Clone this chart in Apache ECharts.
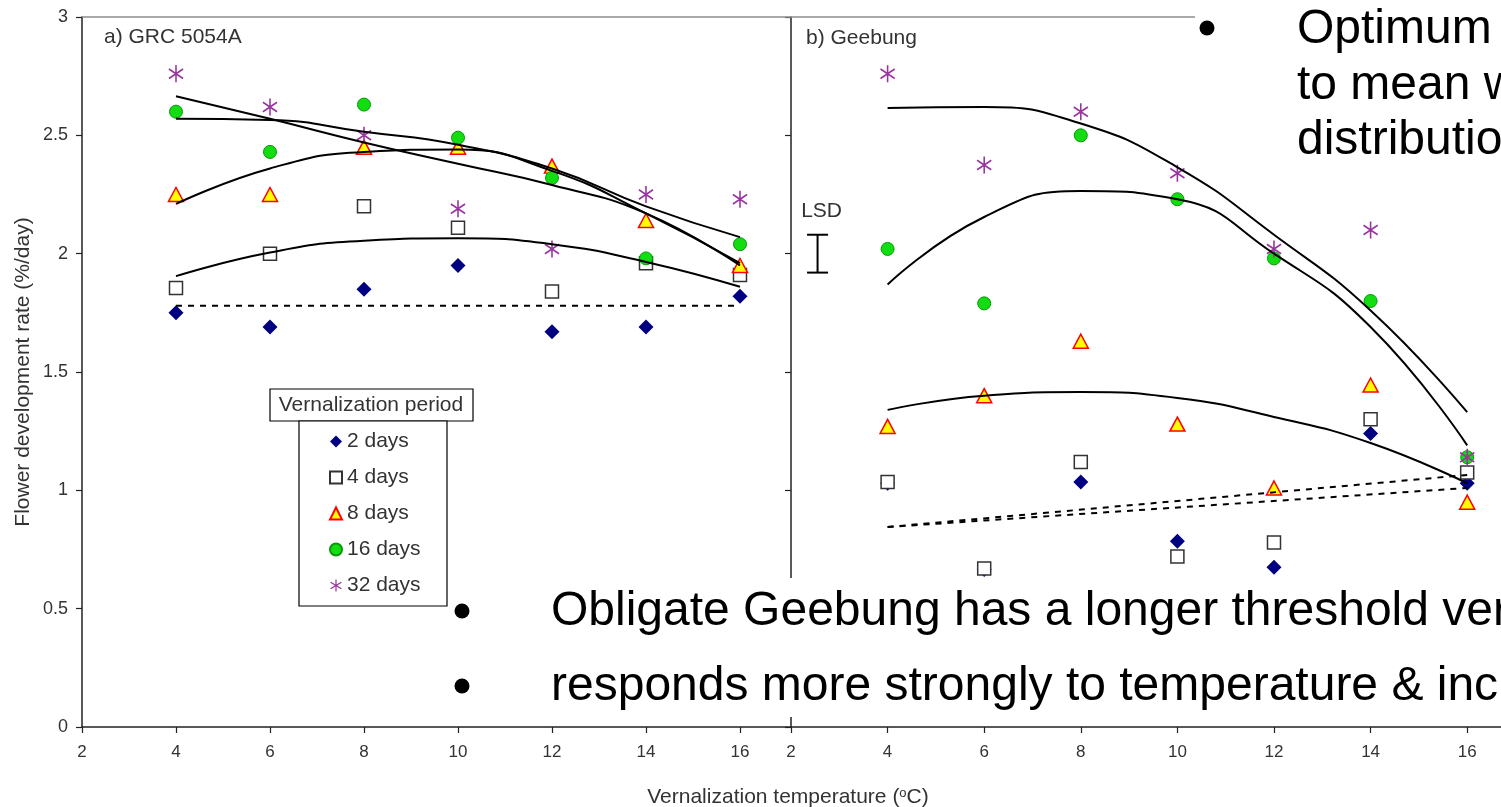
<!DOCTYPE html>
<html><head><meta charset="utf-8">
<script src="https://cdn.jsdelivr.net/npm/echarts@6/dist/echarts.min.js"></script>
<style>html,body{margin:0;padding:0;background:#fff}#c{width:1501px;height:807px}</style>
</head><body><div id="c"></div>
<script>
// ---------- data ----------
const temps = [4, 6, 8, 10, 12, 14, 16];
const periods = ['2 days', '4 days', '8 days', '16 days', '32 days'];

// a) GRC 5054A observed
const a2  = [1.75, 1.69, 1.85, 1.95, 1.67, 1.69, 1.82];
const a4  = [1.855, 2.00, 2.20, 2.11, 1.84, 1.96, 1.91];
const a8  = [2.25, 2.25, 2.45, 2.45, 2.37, 2.14, 1.95];
const a16 = [2.60, 2.43, 2.63, 2.49, 2.32, 1.98, 2.04];
const a32 = [2.76, 2.62, 2.50, 2.19, 2.02, 2.25, 2.23];
// a) fitted curves (read from picture)
const aFit2  = [[4, 1.78], [16, 1.78]];
const aFit4  = [1.905, 2.005, 2.055, 2.065, 2.04, 1.965, 1.86];
const aFit8  = [2.21, 2.36, 2.43, 2.44, 2.35, 2.17, 1.96];
const aFit16 = [2.57, 2.565, 2.515, 2.46, 2.36, 2.20, 2.07];
const aFit32 = [2.665, 2.57, 2.47, 2.38, 2.29, 2.17, 1.95];

// b) Geebung observed
const b2  = [1.03, 0.665, 1.035, 0.785, 0.675, 1.24, 1.03];
const b4  = [1.035, 0.67, 1.12, 0.72, 0.78, 1.30, 1.075];
const b8  = [1.27, 1.40, 1.63, 1.28, 1.01, 1.445, 0.95];
const b16 = [2.02, 1.79, 2.50, 2.23, 1.98, 1.80, 1.14];
const b32 = [2.76, 2.375, 2.60, 2.34, 2.02, 2.10, 1.14];
// b) fitted curves
const bFit2  = [[4, 0.845], [16, 1.01]];
const bFit4  = [[4, 0.845], [16, 1.065]];
const bFit8  = [1.34, 1.40, 1.415, 1.39, 1.31, 1.20, 1.03];
const bFit16 = [1.87, 2.155, 2.265, 2.23, 2.00, 1.69, 1.19];
const bFit32 = [2.615, 2.62, 2.55, 2.365, 2.08, 1.76, 1.33];
// LSD bar (x, low, high)
const lsd = [2.55, 1.92, 2.08];

// ---------- styles ----------
const FONT = '"Liberation Sans", Arial, sans-serif';
const STAR = 'path://M45 0 L55 0 L55 100 L45 100 Z M7.64 17.75 L97.64 73.75 L92.36 82.25 L2.36 26.25 Z M2.36 73.75 L92.36 17.75 L97.64 26.25 L7.64 82.25 Z';
const markers = {
  '2 days':  {symbol: 'diamond', symbolSize: 15, itemStyle: {color: '#000080', opacity: 1}},
  '4 days':  {symbol: 'rect', symbolSize: 13, itemStyle: {color: '#ffffff', borderColor: '#333333', borderWidth: 1.5, opacity: 1}},
  '8 days':  {symbol: 'triangle', symbolSize: [15, 14], itemStyle: {color: '#ffff00', borderColor: '#ff0000', borderWidth: 1.5, opacity: 1}},
  '16 days': {symbol: 'circle', symbolSize: 13, itemStyle: {color: '#11dd11', borderColor: '#079907', borderWidth: 1, opacity: 1}},
  '32 days': {symbol: STAR, symbolSize: [15, 17], itemStyle: {color: '#9933a0', opacity: 1}}
};

const pair = (vals) => temps.map((t, i) => [t, vals[i]]);
function scatter(name, vals, gi) {
  const m = markers[name];
  return {type: 'scatter', name, xAxisIndex: gi, yAxisIndex: gi, data: pair(vals),
    symbol: m.symbol, symbolSize: m.symbolSize, itemStyle: m.itemStyle, z: 2, silent: true};
}
function curve(id, data, gi, dashed) {
  return {type: 'line', name: id, xAxisIndex: gi, yAxisIndex: gi, data,
    smooth: dashed ? false : true, symbol: 'none', z: 3, silent: true,
    lineStyle: {color: '#000', width: 2, type: dashed ? [6, 6] : 'solid'}};
}

const series = [
  scatter('2 days', a2, 0), scatter('4 days', a4, 0), scatter('8 days', a8, 0),
  scatter('16 days', a16, 0), scatter('32 days', a32, 0),
  scatter('2 days', b2, 1), scatter('4 days', b4, 1), scatter('8 days', b8, 1),
  scatter('16 days', b16, 1), scatter('32 days', b32, 1),
  curve('fa2', aFit2, 0, true), curve('fa4', pair(aFit4), 0), curve('fa8', pair(aFit8), 0),
  curve('fa16', pair(aFit16), 0), curve('fa32', pair(aFit32), 0),
  curve('fb2', bFit2, 1, true), curve('fb4', bFit4, 1, true), curve('fb8', pair(bFit8), 1),
  curve('fb16', pair(bFit16), 1), curve('fb32', pair(bFit32), 1),
  {type: 'custom', name: 'LSD', xAxisIndex: 1, yAxisIndex: 1, data: [lsd], z: 3, silent: true,
    renderItem: (params, api) => {
      const lo = api.coord([api.value(0), api.value(1)]);
      const hi = api.coord([api.value(0), api.value(2)]);
      const w = 10.5, st = {stroke: '#000', lineWidth: 2};
      return {type: 'group', children: [
        {type: 'line', shape: {x1: lo[0], y1: lo[1], x2: hi[0], y2: hi[1]}, style: st},
        {type: 'line', shape: {x1: lo[0] - w, y1: lo[1], x2: lo[0] + w, y2: lo[1]}, style: st},
        {type: 'line', shape: {x1: hi[0] - w, y1: hi[1], x2: hi[0] + w, y2: hi[1]}, style: st},
        {type: 'text', x: hi[0] + 4, y: hi[1] - 24, style: {text: 'LSD', fontSize: 21, fontFamily: FONT, fill: '#333', align: 'center', verticalAlign: 'middle'}}
      ]};
    }}
];

const axisCol = '#222';
function xAx(gi, max) {
  return {gridIndex: gi, type: 'value', min: 2, max, interval: 2,
    axisLine: {show: true, lineStyle: {color: axisCol, width: 1.5}},
    axisTick: {show: true, length: 6, lineStyle: {color: axisCol, width: 1.2}},
    axisLabel: {fontSize: 17, color: '#333', margin: 17, fontFamily: FONT, showMaxLabel: false},
    splitLine: {show: false}};
}
function yAx(gi, labels) {
  const a = {gridIndex: gi, type: 'value', min: 0, max: 3, interval: 0.5,
    axisLine: {show: true, lineStyle: {color: axisCol, width: 1.5}},
    axisTick: {show: true, length: 6, lineStyle: {color: axisCol, width: 1.2}},
    axisLabel: {show: labels, fontSize: 18, color: '#333', margin: 14, fontFamily: FONT},
    splitLine: {show: false}};
  if (labels) {
    a.name = 'Flower development rate (%/day)';
    a.nameLocation = 'middle';
    a.nameGap = 48;
    a.nameTextStyle = {fontSize: 21, color: '#333', fontFamily: FONT};
  }
  return a;
}

const bigText = (x, y, t) => ({type: 'text', x, y, z: 101,
  style: {text: t, fontSize: 48, fontFamily: FONT, fill: '#000', align: 'left', verticalAlign: 'middle'}});
const bullet = (cx, cy) => ({type: 'circle', shape: {cx, cy, r: 7.5}, z: 101, style: {fill: '#000'}});

const option = {
  animation: false,
  backgroundColor: '#fff',
  textStyle: {fontFamily: FONT},
  grid: [
    {left: 82, top: 17, width: 708, height: 710},
    {left: 791, top: 17, width: 710, height: 710}
  ],
  xAxis: [xAx(0, 17.064), xAx(1, 16.70)],
  yAxis: [yAx(0, true), yAx(1, false)],
  legend: {
    data: periods, orient: 'vertical', left: 329, top: 431, padding: 0,
    itemWidth: 12, itemHeight: 12, itemGap: 15, selectedMode: false, z: 10,
    textStyle: {fontSize: 21, color: '#333', lineHeight: 21, fontFamily: FONT}
  },
  graphic: [
    {type: 'line', z: 50, shape: {x1: 82, y1: 17, x2: 1195, y2: 17}, style: {stroke: '#8c8c8c', lineWidth: 1.5}},
    {type: 'text', x: 104, y: 37, style: {text: 'a) GRC 5054A', fontSize: 21, fontFamily: FONT, fill: '#333', verticalAlign: 'middle'}},
    {type: 'text', x: 806, y: 38, style: {text: 'b) Geebung', fontSize: 21, fontFamily: FONT, fill: '#333', verticalAlign: 'middle'}},
    {type: 'rect', z: 1, shape: {x: 270, y: 389, width: 203, height: 32}, style: {fill: '#fff', stroke: '#000', lineWidth: 1.2}},
    {type: 'text', z: 2, x: 371, y: 405, style: {text: 'Vernalization period', fontSize: 21, fontFamily: FONT, fill: '#333', align: 'center', verticalAlign: 'middle'}},
    {type: 'rect', z: 1, shape: {x: 299, y: 421, width: 148, height: 185}, style: {fill: '#fff', stroke: '#000', lineWidth: 1.2}},
    {type: 'text', x: 788, y: 797, style: {
      text: 'Vernalization temperature ({s|o}C)', fontSize: 21, fontFamily: FONT, fill: '#333',
      align: 'center', verticalAlign: 'middle', lineHeight: 21,
      rich: {s: {fontSize: 13, fontFamily: FONT, fill: '#333', verticalAlign: 'top', lineHeight: 21, padding: [0, 0, 8, 0]}}}},
    // overlay text boxes
    {type: 'rect', z: 100, shape: {x: 1195, y: 0, width: 306, height: 166}, style: {fill: '#fff'}},
    bullet(1207, 28),
    bigText(1297, 30, 'Optimum'),
    bigText(1297, 86, 'to mean w'),
    bigText(1297, 141, 'distributio'),
    {type: 'rect', z: 100, shape: {x: 450, y: 578, width: 1051, height: 139}, style: {fill: '#fff'}},
    bullet(462, 611),
    bullet(462, 686),
    bigText(551, 612, 'Obligate Geebung has a longer threshold ver'),
    bigText(551, 687, 'responds more strongly to temperature & incr')
  ],
  series
};

const chart = echarts.init(document.getElementById('c'), null, {renderer: 'canvas'});
chart.setOption(option);
</script>
</body></html>
